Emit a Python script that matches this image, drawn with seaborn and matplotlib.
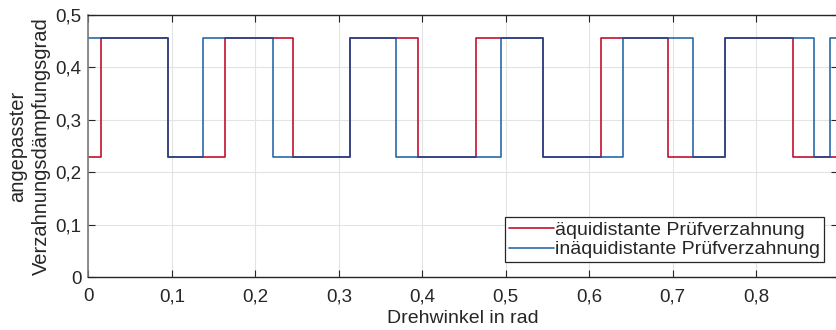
import matplotlib
matplotlib.use("Agg")
import matplotlib.pyplot as plt
import seaborn as sns
import pandas as pd

# Switching positions (rad) and damping levels of both test gearings
LOW, HIGH = 0.23, 0.457
x_aequi = [0, 0.0149, 0.0959, 0.1639, 0.2455, 0.3138, 0.3945, 0.4641,
           0.5444, 0.6136, 0.6943, 0.7631, 0.8441, 0.8977]
y_aequi = [LOW, HIGH, LOW, HIGH, LOW, HIGH, LOW, HIGH,
           LOW, HIGH, LOW, HIGH, LOW, LOW]
x_inaequi = [0, 0.0959, 0.1379, 0.2214, 0.3138, 0.3681, 0.4937, 0.5444,
             0.6400, 0.7239, 0.7631, 0.8693, 0.8885, 0.8977]
y_inaequi = [HIGH, LOW, HIGH, LOW, HIGH, LOW, HIGH, LOW,
             HIGH, LOW, HIGH, LOW, HIGH, HIGH]

label_aequi = "äquidistante Prüfverzahnung"
label_inaequi = "inäquidistante Prüfverzahnung"

x_ticks = [0, 0.1, 0.2, 0.3, 0.4, 0.5, 0.6, 0.7, 0.8]
x_ticklabels = ["0", "0,1", "0,2", "0,3", "0,4", "0,5", "0,6", "0,7", "0,8"]
y_ticks = [0, 0.1, 0.2, 0.3, 0.4, 0.5]
y_ticklabels = ["0", "0,1", "0,2", "0,3", "0,4", "0,5"]

sns.set_theme(style="white")
plt.rcParams["font.family"] = ["Liberation Sans", "DejaVu Sans"]

df_a = pd.DataFrame({"x": x_aequi, "y": y_aequi})
df_i = pd.DataFrame({"x": x_inaequi, "y": y_inaequi})

fig = plt.figure(figsize=(8.37, 3.30), dpi=100)
ax = fig.add_axes([0.1055, 0.1597, 0.8955, 0.7948])

sns.lineplot(data=df_a, x="x", y="y", ax=ax, color="#C4102E", lw=1.2,
             drawstyle="steps-post", sort=False, label=label_aequi)
sns.lineplot(data=df_i, x="x", y="y", ax=ax, color="#00509B", lw=1.2,
             alpha=0.85, drawstyle="steps-post", sort=False,
             label=label_inaequi)

ax.set_xlim(0, 0.8977)
ax.set_ylim(0, 0.5)
ax.set_xticks(x_ticks)
ax.set_xticklabels(x_ticklabels)
ax.set_yticks(y_ticks)
ax.set_yticklabels(y_ticklabels)

ax.grid(True, color="#e3e3e3", lw=0.8)
ax.set_axisbelow(True)
ax.tick_params(direction="in", length=5, width=0.8, colors="#262626",
               labelsize=13.5, top=True, right=True, bottom=True, left=True)
ax.tick_params(axis="x", pad=8)
ax.tick_params(axis="y", pad=5)

for side in ("top", "bottom"):
    ax.spines[side].set_color("#262626")
    ax.spines[side].set_linewidth(1.0)
ax.spines["left"].set_color("#7a7a7a")
ax.spines["left"].set_linewidth(1.2)
ax.spines["right"].set_visible(False)

ax.set_xlabel("Drehwinkel in rad", fontsize=14, color="#262626", labelpad=3)
ax.set_ylabel("angepasster\nVerzahnungsdämpfungsgrad", fontsize=14.5,
              color="#262626", labelpad=3, linespacing=1.35)

leg = ax.legend(loc="lower right", bbox_to_anchor=(0.981, 0.057),
                fontsize=14, frameon=True, fancybox=False,
                edgecolor="#262626", framealpha=1, handlelength=2.3,
                handletextpad=0.05, borderpad=0.2, labelspacing=0.1,
                borderaxespad=0)
leg.get_frame().set_linewidth(0.9)

fig.savefig("out.png", dpi=100)
